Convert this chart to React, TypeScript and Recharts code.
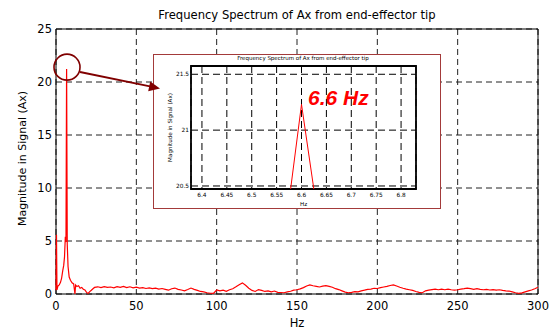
import React from 'react';
import { LineChart, Line, XAxis, YAxis, CartesianGrid, ReferenceArea, ReferenceDot } from 'recharts';

const freqHz = [
  0, 0.3, 0.6, 1.2, 2.0, 2.8, 3.5, 4.2, 4.8, 5.3, 5.8, 6.2, 6.55, 6.6, 6.65, 7.0, 7.5, 8.2, 9.0, 10.0,
  11.0, 11.8, 12.2, 13, 14, 15, 16, 17, 18, 19, 20, 21, 22, 23, 24,
  26, 28, 30, 32, 34, 36, 38, 40, 42, 44, 46, 48, 50, 52, 54, 56, 58, 60, 62, 64, 66, 68, 70, 72, 74, 76, 78, 80,
  82, 84, 86, 88, 90, 92, 94, 96, 98, 100, 102, 104, 106, 108, 110, 112, 114, 116, 118, 120, 122, 124, 126, 128, 130,
  132, 134, 136, 138, 140, 142, 144, 146, 148, 150, 152, 154, 156, 158, 160, 162, 164, 166, 168, 170, 172, 174, 176, 178, 180,
  182, 184, 186, 188, 190, 192, 194, 196, 198, 200, 202, 204, 206, 208, 210, 212, 214, 216, 218, 220, 222, 224, 226, 228, 230,
  232, 234, 236, 238, 240, 242, 244, 246, 248, 250, 252, 254, 256, 258, 260, 262, 264, 266, 268, 270, 272, 274, 276, 278, 280,
  282, 284, 286, 288, 290, 292, 294, 296, 298, 300,
];

const magnitude = [
  0.35, 5.6, 0.4, 0.75, 0.85, 1.1, 1.5, 2.2, 2.7, 3.5, 5.4, 4.9, 19.5, 21.23, 19.7, 4.7, 2.6, 1.6, 1.3, 1.05,
  0.95, 0.0, 0.85, 0.7, 0.78, 0.55, 0.62, 0.45, 0.38, 0.15, 0.05, 0.22, 0.35, 0.5, 0.62,
  0.68, 0.6, 0.7, 0.62, 0.66, 0.58, 0.7, 0.63, 0.72, 0.6, 0.68, 0.58, 0.64, 0.56, 0.6, 0.52, 0.57, 0.5, 0.55, 0.47, 0.52, 0.44, 0.36, 0.5, 0.56, 0.44, 0.38, 0.3,
  0.42, 0.56, 0.44, 0.34, 0.24, 0.2, 0.12, 0.07, 0.05, 0.38, 0.3, 0.36, 0.26, 0.4, 0.5, 0.68, 0.88, 1.05, 0.82, 0.55, 0.34, 0.24, 0.42, 0.34, 0.24,
  0.3, 0.2, 0.28, 0.16, 0.14, 0.12, 0.2, 0.26, 0.36, 0.4, 0.48, 0.6, 0.76, 0.86, 0.78, 0.72, 0.66, 0.74, 0.78, 0.72, 0.64, 0.5, 0.42, 0.3, 0.18,
  0.12, 0.16, 0.22, 0.2, 0.3, 0.36, 0.44, 0.46, 0.54, 0.52, 0.6, 0.66, 0.72, 0.8, 0.86, 0.76, 0.64, 0.54, 0.46, 0.4, 0.34, 0.24, 0.16, 0.12, 0.3,
  0.36, 0.42, 0.46, 0.4, 0.46, 0.4, 0.46, 0.4, 0.36, 0.4, 0.46, 0.5, 0.56, 0.5, 0.44, 0.5, 0.44, 0.4, 0.44, 0.38, 0.42, 0.36, 0.4, 0.34, 0.3,
  0.28, 0.2, 0.12, 0.06, 0.1, 0.2, 0.3, 0.38, 0.5, 0.63,
];

const mainXTicks = [0, 50, 100, 150, 200, 250, 300];
const mainYTicks = [0, 5, 10, 15, 20, 25];
const insetXTicks = [6.4, 6.45, 6.5, 6.55, 6.6, 6.65, 6.7, 6.75, 6.8];
const insetYTicks = [20.5, 21, 21.5];

const titleText = 'Frequency Spectrum of Ax from end-effector tip';
const yLabelText = 'Magnitude in Signal (Ax)';
const xLabelText = 'Hz';
const peakText = '6.6 Hz';

const data = freqHz.map((hz, i) => ({ hz, mag: magnitude[i] }));

const FONT = 'DejaVu Sans';

const RotatedLabel = (props: any) => {
  const { viewBox, text, dx, dy, fontSize } = props;
  if (!viewBox) return null;
  const cx = viewBox.x + dx;
  const cy = viewBox.y + viewBox.height / 2 + (dy || 0);
  return (
    <text
      x={cx}
      y={cy}
      transform={`rotate(-90 ${cx} ${cy})`}
      textAnchor="middle"
      dominantBaseline="central"
      fontSize={fontSize}
      fontFamily={FONT}
      fill="#000"
    >
      {text}
    </text>
  );
};

export default function App() {
  return (
    <div style={{ position: 'absolute', left: 0, top: 0, width: 551, height: 331, background: '#fff' }}>
      <div style={{ position: 'absolute', left: 0, top: 0 }}>
        <LineChart width={551} height={331} data={data} margin={{ top: 29, right: 13, bottom: 0, left: 0 }}>
          <CartesianGrid stroke="#222" strokeDasharray="6 4" strokeWidth={1} />
          <XAxis
            dataKey="hz"
            type="number"
            domain={[0, 300]}
            ticks={mainXTicks}
            height={37}
            axisLine={false}
            tickLine={false}
            tickSize={4}
            tickMargin={4}
            interval={0}
            tick={{ fontSize: 11.5, fill: '#000', fontFamily: FONT }}
            label={{ value: xLabelText, position: 'insideBottom', offset: 4, fontSize: 11.5, fill: '#000', fontFamily: FONT }}
          />
          <YAxis
            type="number"
            domain={[0, 25]}
            ticks={mainYTicks}
            width={56}
            axisLine={false}
            tickLine={false}
            tickSize={2}
            tickMargin={2}
            interval={0}
            tick={{ fontSize: 11.5, fill: '#000', fontFamily: FONT }}
            label={<RotatedLabel text={yLabelText} dx={22} dy={-3} fontSize={11} />}
          />
          <ReferenceArea x1={0} x2={300} y1={0} y2={25} fill="none" stroke="#000" strokeWidth={1} ifOverflow="visible" />
          <Line dataKey="mag" stroke="#ff0000" strokeWidth={1.2} dot={false} isAnimationActive={false} />
          <ReferenceDot x={6.85} y={21.4} r={13} fill="none" stroke="#800000" strokeWidth={1.6} ifOverflow="visible" />
        </LineChart>
      </div>

      <div style={{ position: 'absolute', left: 153, top: 54, width: 288, height: 155, background: '#fff' }}>
        <LineChart width={288} height={155} data={data} margin={{ top: 12, right: 25, bottom: 0, left: 0 }}>
          <CartesianGrid stroke="#000" strokeDasharray="7 4" strokeWidth={1} />
          <XAxis
            dataKey="hz"
            type="number"
            domain={[6.378, 6.83]}
            allowDataOverflow
            ticks={insetXTicks}
            height={20}
            axisLine={false}
            tickLine={false}
            tickSize={2}
            tickMargin={1.5}
            interval={0}
            tick={{ fontSize: 5.8, fill: '#000', fontFamily: FONT }}
            label={{ value: xLabelText, position: 'insideBottom', offset: 3, fontSize: 5.6, fill: '#000', fontFamily: FONT }}
          />
          <YAxis
            type="number"
            domain={[20.473, 21.574]}
            allowDataOverflow
            ticks={insetYTicks}
            width={38}
            axisLine={false}
            tickLine={false}
            tickSize={1}
            tickMargin={1}
            interval={0}
            tick={{ fontSize: 5.8, fill: '#000', fontFamily: FONT }}
            label={<RotatedLabel text={yLabelText} dx={17} dy={0} fontSize={5.6} />}
          />
          <ReferenceArea x1={6.378} x2={6.83} y1={20.473} y2={21.574} fill="none" stroke="#000" strokeWidth={1.8} ifOverflow="visible" />
          <Line dataKey="mag" stroke="#ff0000" strokeWidth={1} dot={false} isAnimationActive={false} />
        </LineChart>
        <div style={{ position: 'absolute', left: 0, top: 0, width: 288, height: 155, boxSizing: 'border-box', border: '1.5px solid #a33a3a', pointerEvents: 'none' }} />
      </div>

      <svg width={551} height={331} style={{ position: 'absolute', left: 0, top: 0, pointerEvents: 'none' }}>
        <text x={297} y={18.5} textAnchor="middle" fontSize={11.6} fontFamily={FONT} fill="#000">{titleText}</text>
        <text x={303} y={59.5} textAnchor="middle" fontSize={5.5} fontFamily={FONT} fill="#000">{titleText}</text>
        <text x={308} y={105} fontSize={21} fontWeight="bold" fontStyle="italic" fontFamily="Liberation Sans, Arial" fill="#ff0000">{peakText}</text>
        <line x1={80} y1={72} x2={150} y2={86.3} stroke="#800000" strokeWidth={1.8} />
        <polygon points="160,88.5 148.2,91.2 150.2,81.4" fill="#800000" />
      </svg>
    </div>
  );
}
